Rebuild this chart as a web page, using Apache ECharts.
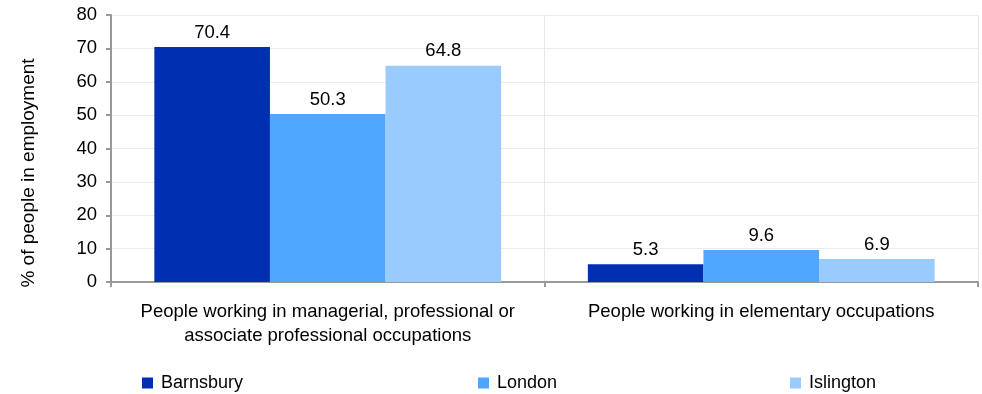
<!DOCTYPE html>
<html><head><meta charset="utf-8">
<script src="https://cdn.jsdelivr.net/npm/echarts@6/dist/echarts.min.js"></script>
<style>html,body{margin:0;padding:0;background:#fff}#c{width:982px;height:394px}</style>
</head><body><div id="c"></div>
<script>
const categories = ["People working in managerial, professional or\nassociate professional occupations", "People working in elementary occupations"];
const seriesNames = ["Barnsbury", "London", "Islington"];
const barnsbury = [70.4, 5.3];
const london = [50.3, 9.6];
const islington = [64.8, 6.9];
const yTicks = [0, 80, 10];
const colors = ["#0030B2", "#4EA6FF", "#99CBFF"];
const font = "Liberation Sans, Arial, sans-serif";
const fs = 18.5;
const chart = echarts.init(document.getElementById('c'));
const vals = [barnsbury, london, islington];
chart.setOption({
  animation: false,
  textStyle: {fontFamily: font},
  grid: {left: 111, right: 4, top: 15, bottom: 112},
  legend: [0,1,2].map((i) => ({
    data: [seriesNames[i]],
    left: [137, 473, 785][i],
    top: 369,
    itemWidth: 11, itemHeight: 11, icon: 'rect',
    textStyle: {fontSize: 18, color: '#000', fontFamily: font, padding: [0, 0, 0, 3]}
  })),
  xAxis: {
    type: 'category', data: categories,
    axisLine: {lineStyle: {color: '#999', width: 2}},
    axisTick: {show: true, length: 5, interval: 0, lineStyle: {color: '#999', width: 2}},
    splitLine: {show: true, interval: 0, lineStyle: {color: '#e8e8e8'}},
    axisLabel: {fontSize: fs, color: '#000', lineHeight: 24, margin: 18, interval: 0, fontFamily: font}
  },
  yAxis: {
    type: 'value', min: yTicks[0], max: yTicks[1], interval: yTicks[2],
    name: '% of people in employment', nameLocation: 'middle', nameRotate: 90, nameGap: 73,
    nameTextStyle: {fontSize: 19, color: '#000', fontFamily: font, padding: [0, 49, 0, 0]},
    axisLine: {show: true, lineStyle: {color: '#999', width: 2}},
    axisTick: {show: true, length: 5, lineStyle: {color: '#999', width: 2}},
    splitLine: {lineStyle: {color: '#ececec'}},
    axisLabel: {fontSize: fs, color: '#000', margin: 14, fontFamily: font}
  },
  series: vals.map((v, i) => ({
    name: seriesNames[i], type: 'bar', data: v,
    barGap: '0%', barCategoryGap: '20%',
    itemStyle: {color: colors[i]},
    label: {show: true, position: 'top', fontSize: fs, color: '#000', distance: 5, fontFamily: font}
  }))
});
</script></body></html>
